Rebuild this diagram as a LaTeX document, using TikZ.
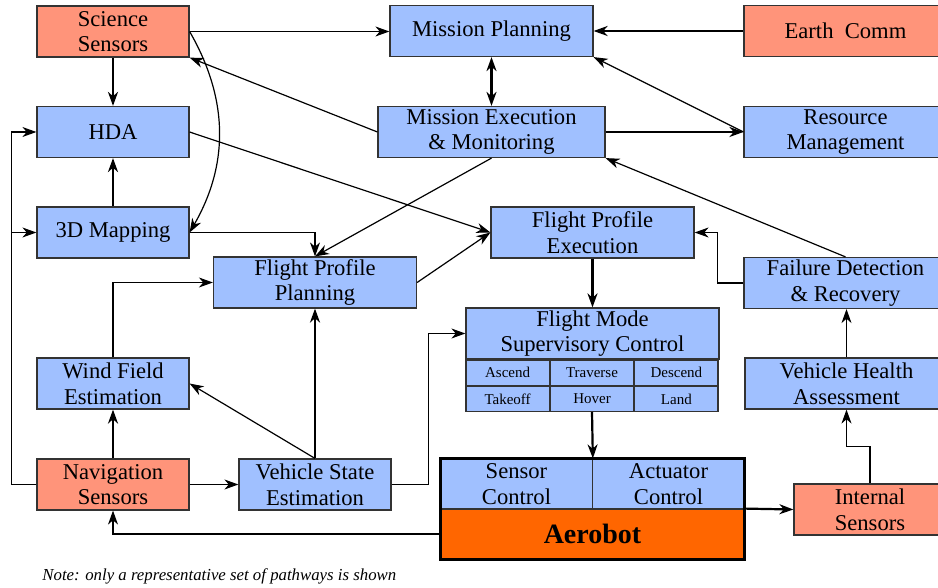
\documentclass[tikz,border=0pt]{standalone}
\usepackage{fontspec}
\setmainfont{Liberation Serif}
\usetikzlibrary{arrows.meta,positioning}
\definecolor{blkblue}{RGB}{160,192,255}
\definecolor{sensred}{RGB}{255,148,122}
\definecolor{aeroorange}{RGB}{255,102,0}

\begin{document}
\begin{tikzpicture}[
    x=0.5pt,y=-0.5pt,
    blk/.style={draw=black!80,line width=0.6pt,fill=blkblue,minimum width=76pt,minimum height=25.5pt,
                inner sep=0pt,align=center,font=\fontsize{11.3}{12.8}\selectfont},
    wide/.style={minimum width=101.5pt},
    sens/.style={blk,fill=sensred},
    cell/.style={draw=black!80,line width=0.6pt,fill=blkblue,minimum width=41.6pt,minimum height=12.5pt,
                 inner sep=0pt,font=\fontsize{7.5}{8}\selectfont},
    >={Stealth[length=7pt,width=5pt,inset=2.2pt]},
    lnk/.style={line width=0.6pt,->},
    blnk/.style={line width=1.1pt,->}
]
    \useasboundingbox (0,0) rectangle (938,588);

    % left column
    \node[sens] (sci)  at (113,31.5)  {Science\\Sensors};
    \node[blk]  (hda)  at (113,132)   {HDA};
    \node[blk]  (map)  at (113,232.5) {3D Mapping};
    \node[blk]  (wind) at (113,383.5) {Wind Field\\Estimation};
    \node[sens] (nav)  at (113,484.5) {Navigation\\Sensors};

    % middle
    \node[blk]      (vse) at (315,484.5) {Vehicle State\\Estimation};
    \node[blk,wide] (fpp) at (315,282.5) {Flight Profile\\Planning};
    \node[blk,wide] (mp)  at (491.5,31)  {Mission Planning};
    \node[blk,minimum width=113.5pt] (me) at (491.5,132) {Mission Execution\\\& Monitoring};
    \node[blk,wide] (fpe) at (592.5,232.5) {Flight Profile\\Execution};
    \node[blk,minimum width=126.5pt] (fms) at (592.5,333.5) {Flight Mode\\Supervisory Control};

    % flight modes
    \node[cell,anchor=north west] (asc) at (fms.south west) {Ascend};
    \node[cell,right=0pt of asc] (trv) {Traverse};
    \node[cell,right=0pt of trv] (dsc) {Descend};
    \node[cell,below=0pt of asc] (tko) {Takeoff};
    \node[cell,below=0pt of trv] (hov) {Hover};
    \node[cell,below=0pt of dsc] (lnd) {Land};

    % right column
    \node[sens,wide] (earth) at (845.5,31)   {Earth\ \ Comm};
    \node[blk,wide]  (res)   at (845.5,132)  {Resource\\Management};
    \node[blk,wide]  (fdr)   at (845.5,283)  {Failure Detection\\\& Recovery};
    \node[blk,wide]  (vha)   at (846.5,383.5) {Vehicle Health\\Assessment};
    \node[sens]      (ins)   at (870,509.5)  {Internal\\Sensors};

    % vehicle
    \node[blk,minimum width=75.75pt,minimum height=25pt] (sc) at (516.5,484) {Sensor\\Control};
    \node[blk,minimum width=75.75pt,minimum height=25pt] (ac) at (668.5,484) {Actuator\\Control};
    \node[draw=black!80,fill=aeroorange,minimum width=151.5pt,minimum height=25pt,inner sep=0pt,
          font=\fontsize{14}{14}\selectfont\bfseries] (aero) at (592.5,534) {Aerobot};
    \draw[line width=1.5pt] (sc.north west) rectangle (aero.south east);

    \node[anchor=base west,inner sep=0pt,font=\fontsize{8.4}{9}\selectfont\itshape] (note) at (42,581)
        {Note: only a representative set of pathways is shown};

    % thin pathways
    \draw[lnk] (sci.east) -- (sci.east -| mp.west);
    \draw[lnk] (sci.east) to[out=-60,in=60] (map.east);
    \draw[lnk] (me.west) -- (sci.south east);
    \draw[lnk] (hda.east) -- (fpe.west);
    \draw[lnk] (fpp.east) -- (fpe.west);
    \draw[lnk] (me.south) -- (fpp.north);
    \draw[lnk] (map.east) -| (fpp.north);
    \draw[lnk] (nav.west) -- ++(-25,0) |- (hda.west);
    \draw[lnk] (nav.west) -- ++(-25,0) |- (map.west);
    \draw[lnk] (wind.north) |- (fpp.west);
    \draw[lnk] (vse.north) -- (wind.east);
    \draw[lnk] (nav.east) -- (vse.west);
    \draw[lnk] (vse.east) -- ++(37,0) |- (fms.west);
    \draw[lnk] (aero.west) -| (nav.south);
    \draw[lnk] (res.west) -- (mp.south east);
    \draw[lnk] (fdr.north) -- (me.south east);
    \draw[lnk] (fdr.west) -- ++(-26,0) |- (fpe.east);
    \draw[lnk] (vha.north) -- (vha.north |- fdr.south);
    \draw[lnk] (ins.north) -- ++(0,-37) -| (vha.south);

    % main pathways
    \begin{scope}[blnk]
        \draw (sci.south) -- (hda.north);
        \draw (map.north) -- (hda.south);
        \draw (nav.north) -- (wind.south);
        \draw (vse.north) -- (fpp.south);
        \draw[<->] (mp.south) -- (me.north);
        \draw (earth.west) -- (mp.east);
        \draw (me.east) -- (res.west);
        \draw (fpe.south) -- (fms.north);
        \draw (hov.south) -- (sc.north east);
        \draw (aero.north east) -- (ins.west);
    \end{scope}
\end{tikzpicture}
\end{document}
